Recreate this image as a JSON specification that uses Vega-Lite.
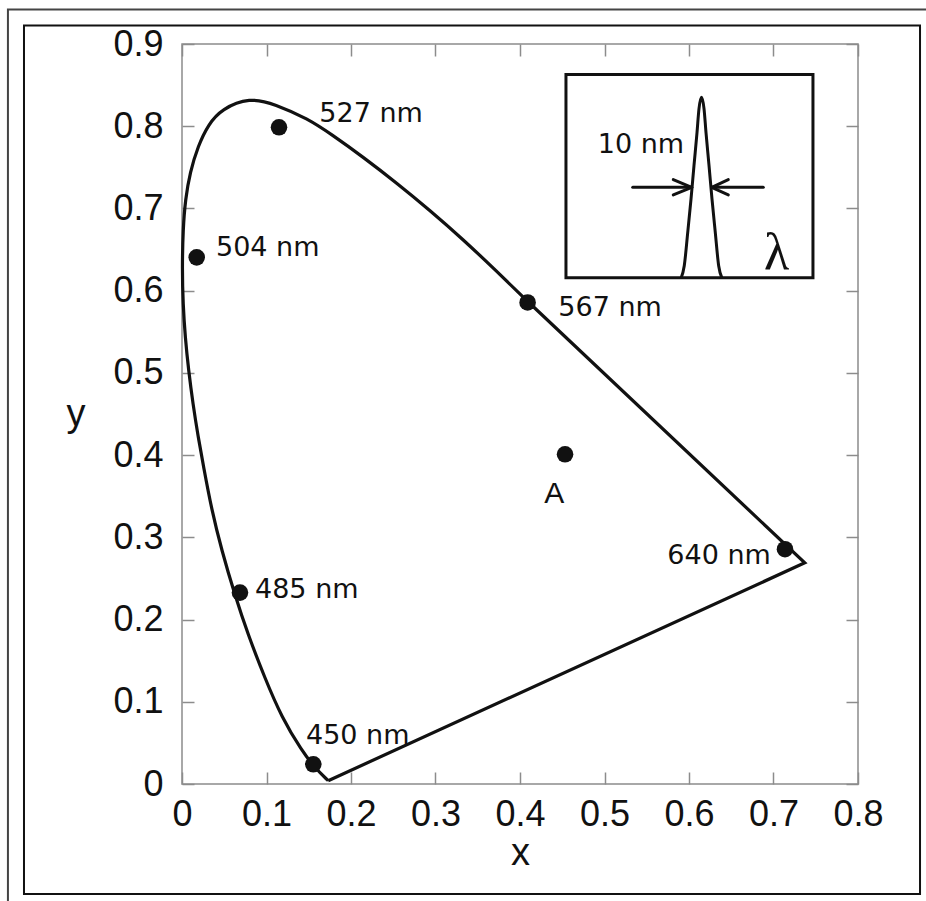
{
  "$schema": "https://vega.github.io/schema/vega-lite/v6.json",
  "autosize": "none",
  "width": 676,
  "height": 740,
  "padding": {"left": 182, "top": 44, "right": 68, "bottom": 117},
  "background": "white",
  "config": {
    "view": {"stroke": "#8c8c8c", "strokeWidth": 1.5},
    "axis": {"domain": false, "grid": false, "tickColor": "#8c8c8c", "tickWidth": 1.5, "tickSize": -12,
      "labelFont": "Liberation Sans", "labelFontSize": 36, "labelColor": "#111",
      "titleFont": "Liberation Sans Narrow, Liberation Sans", "titleFontSize": 38, "titleFontWeight": "normal", "titleColor": "#111"}
  },
  "datasets": {
    "outer": [{"x": -0.206, "x2": 0.9, "y": 0.942, "y2": -0.17}],
    "inner": [{"x": -0.187, "x2": 0.8734, "y": 0.9225, "y2": -0.1339}],
    "inset": [{"x": 0.4544, "x2": 0.7467, "y": 0.8628, "y2": 0.6158}],
    "locus": [
      {"i": 1, "x": 0.173, "y": 0.004},
      {"i": 2, "x": 0.157, "y": 0.020},
      {"i": 3, "x": 0.142, "y": 0.040},
      {"i": 4, "x": 0.118, "y": 0.081},
      {"i": 5, "x": 0.098, "y": 0.129},
      {"i": 6, "x": 0.078, "y": 0.182},
      {"i": 7, "x": 0.0625, "y": 0.230},
      {"i": 8, "x": 0.047, "y": 0.284},
      {"i": 9, "x": 0.035, "y": 0.334},
      {"i": 10, "x": 0.0255, "y": 0.386},
      {"i": 11, "x": 0.019, "y": 0.423},
      {"i": 12, "x": 0.013, "y": 0.462},
      {"i": 13, "x": 0.0078, "y": 0.503},
      {"i": 14, "x": 0.0038, "y": 0.543},
      {"i": 15, "x": 0.0012, "y": 0.584},
      {"i": 16, "x": 0.0002, "y": 0.626},
      {"i": 17, "x": 0.0012, "y": 0.675},
      {"i": 18, "x": 0.004, "y": 0.711},
      {"i": 19, "x": 0.0095, "y": 0.744},
      {"i": 20, "x": 0.019, "y": 0.776},
      {"i": 21, "x": 0.031, "y": 0.802},
      {"i": 22, "x": 0.047, "y": 0.821},
      {"i": 23, "x": 0.080, "y": 0.835},
      {"i": 24, "x": 0.110, "y": 0.827},
      {"i": 25, "x": 0.149, "y": 0.809},
      {"i": 26, "x": 0.177, "y": 0.790},
      {"i": 27, "x": 0.215, "y": 0.762},
      {"i": 28, "x": 0.254, "y": 0.731},
      {"i": 29, "x": 0.293, "y": 0.698},
      {"i": 30, "x": 0.333, "y": 0.662},
      {"i": 31, "x": 0.372, "y": 0.624},
      {"i": 32, "x": 0.408, "y": 0.588}
    ],
    "edge": [
      {"i": 1, "x": 0.408, "y": 0.588},
      {"i": 2, "x": 0.737, "y": 0.269},
      {"i": 3, "x": 0.173, "y": 0.004}
    ],
    "dots": [
      {"x": 0.1148, "y": 0.7987},
      {"x": 0.0174, "y": 0.6405},
      {"x": 0.409, "y": 0.5857},
      {"x": 0.4533, "y": 0.401},
      {"x": 0.7136, "y": 0.2856},
      {"x": 0.0686, "y": 0.2328},
      {"x": 0.1554, "y": 0.024}
    ],
    "labels": [
      {"x": 0.1625, "y": 0.8048, "text": "527 nm"},
      {"x": 0.0402, "y": 0.6426, "text": "504 nm"},
      {"x": 0.4454, "y": 0.5695, "text": "567 nm"},
      {"x": 0.0864, "y": 0.2268, "text": "485 nm"},
      {"x": 0.1467, "y": 0.0491, "text": "450 nm"},
      {"x": 0.5744, "y": 0.2681, "text": "640 nm"},
      {"x": 0.492, "y": 0.7675, "text": "10 nm"}
    ],
    "letterA": [{"x": 0.4405, "y": 0.3423, "text": "A"}],
    "lambda": [{"x": 0.7038, "y": 0.6264, "text": "λ"}],
    "peak": [
      {"i": 1, "x": 0.5908, "y": 0.6158},
      {"i": 2, "x": 0.5944, "y": 0.6304},
      {"i": 3, "x": 0.5985, "y": 0.6709},
      {"i": 4, "x": 0.6024, "y": 0.7116},
      {"i": 5, "x": 0.6059, "y": 0.7521},
      {"i": 6, "x": 0.6095, "y": 0.7926},
      {"i": 7, "x": 0.6118, "y": 0.8211},
      {"i": 8, "x": 0.6148, "y": 0.8352},
      {"i": 9, "x": 0.6178, "y": 0.8211},
      {"i": 10, "x": 0.6201, "y": 0.7926},
      {"i": 11, "x": 0.6237, "y": 0.7521},
      {"i": 12, "x": 0.6272, "y": 0.7116},
      {"i": 13, "x": 0.6311, "y": 0.6709},
      {"i": 14, "x": 0.6351, "y": 0.6304},
      {"i": 15, "x": 0.6388, "y": 0.6158}
    ],
    "arrows": [
      {"x": 0.5334, "y": 0.7257, "x2": 0.6032, "y2": 0.7257},
      {"x": 0.5814, "y": 0.7351, "x2": 0.6032, "y2": 0.7257},
      {"x": 0.5814, "y": 0.7165, "x2": 0.6032, "y2": 0.7257},
      {"x": 0.6879, "y": 0.7257, "x2": 0.6269, "y2": 0.7257},
      {"x": 0.6465, "y": 0.7351, "x2": 0.6269, "y2": 0.7257},
      {"x": 0.6465, "y": 0.7165, "x2": 0.6269, "y2": 0.7257}
    ]
  },
  "encoding": {
    "x": {"field": "x", "type": "quantitative", "scale": {"domain": [0, 0.8], "nice": false, "zero": false}, "axis": null},
    "y": {"field": "y", "type": "quantitative", "scale": {"domain": [0, 0.9], "nice": false, "zero": false}, "axis": null}
  },
  "layer": [
    {
      "data": {"name": "outer"},
      "mark": {"type": "rect", "fill": null, "stroke": "#444", "strokeWidth": 2, "clip": false},
      "encoding": {"x2": {"field": "x2"}, "y2": {"field": "y2"}}
    },
    {
      "data": {"name": "inner"},
      "mark": {"type": "rect", "fill": null, "stroke": "#111", "strokeWidth": 2, "clip": false},
      "encoding": {
        "x": {"field": "x", "type": "quantitative", "scale": {"domain": [0, 0.8], "nice": false, "zero": false},
          "axis": {"orient": "bottom", "title": "x", "values": [0, 0.1, 0.2, 0.3, 0.4, 0.5, 0.6, 0.7, 0.8], "format": "~g",
            "labelBaseline": "alphabetic", "labelPadding": 53, "titlePadding": 2, "labelFlush": false}},
        "y": {"field": "y", "type": "quantitative", "scale": {"domain": [0, 0.9], "nice": false, "zero": false},
          "axis": {"orient": "left", "title": "y", "values": [0, 0.1, 0.2, 0.3, 0.4, 0.5, 0.6, 0.7, 0.8, 0.9], "format": "~g",
            "labelPadding": 31, "labelBaseline": "middle", "titleAngle": 0, "titleAlign": "right", "titleBaseline": "middle", "titlePadding": 28, "labelFlush": false}},
        "x2": {"field": "x2"}, "y2": {"field": "y2"}
      }
    },
    {
      "data": {"name": "inset"},
      "mark": {"type": "rect", "fill": null, "stroke": "#111", "strokeWidth": 3},
      "encoding": {
        "x": {"field": "x", "type": "quantitative",
          "axis": {"orient": "top", "title": null, "labels": false, "values": [0, 0.1, 0.2, 0.3, 0.4, 0.5, 0.6, 0.7, 0.8]}},
        "y": {"field": "y", "type": "quantitative",
          "axis": {"orient": "right", "title": null, "labels": false, "values": [0, 0.1, 0.2, 0.3, 0.4, 0.5, 0.6, 0.7, 0.8, 0.9]}},
        "x2": {"field": "x2"}, "y2": {"field": "y2"}
      }
    },
    {
      "data": {"name": "locus"},
      "mark": {"type": "line", "color": "#111", "strokeWidth": 3.2, "interpolate": "basis"},
      "encoding": {"order": {"field": "i", "type": "quantitative"}}
    },
    {
      "data": {"name": "edge"},
      "mark": {"type": "line", "color": "#111", "strokeWidth": 3.2, "strokeJoin": "miter"},
      "encoding": {"order": {"field": "i", "type": "quantitative"}}
    },
    {
      "data": {"name": "peak"},
      "mark": {"type": "line", "color": "#111", "strokeWidth": 3, "interpolate": "monotone"},
      "encoding": {"order": {"field": "i", "type": "quantitative"}}
    },
    {
      "data": {"name": "arrows"},
      "mark": {"type": "rule", "color": "#111", "strokeWidth": 3, "strokeCap": "round"},
      "encoding": {"x2": {"field": "x2"}, "y2": {"field": "y2"}}
    },
    {
      "data": {"name": "dots"},
      "mark": {"type": "circle", "color": "#111", "size": 275, "opacity": 1}
    },
    {
      "data": {"name": "labels"},
      "mark": {"type": "text", "font": "DejaVu Sans", "fontSize": 27, "align": "left", "baseline": "alphabetic", "color": "#111"},
      "encoding": {"text": {"field": "text"}}
    },
    {
      "data": {"name": "letterA"},
      "mark": {"type": "text", "font": "Liberation Sans", "fontSize": 30, "align": "center", "baseline": "alphabetic", "color": "#111"},
      "encoding": {"text": {"field": "text"}}
    },
    {
      "data": {"name": "lambda"},
      "mark": {"type": "text", "font": "Liberation Serif", "fontSize": 52, "align": "center", "baseline": "alphabetic", "color": "#111"},
      "encoding": {"text": {"field": "text"}}
    }
  ]
}
